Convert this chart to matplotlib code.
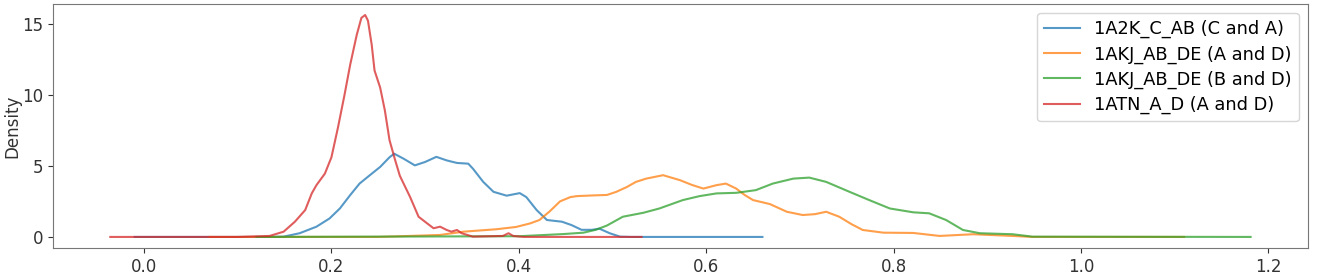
import matplotlib
matplotlib.use("Agg")
import matplotlib.pyplot as plt

# ---------------------------------
# Density curves
# ---------------------------------
labels = ["1A2K_C_AB (C and A)", "1AKJ_AB_DE (A and D)",
          "1AKJ_AB_DE (B and D)", "1ATN_A_D (A and D)"]

blue_x = [-0.01, 0.13, 0.149, 0.166, 0.184, 0.198, 0.209, 0.220, 0.230, 0.241,
          0.252, 0.262, 0.267, 0.277, 0.289, 0.300, 0.312, 0.323, 0.334, 0.346,
          0.351, 0.362, 0.373, 0.387, 0.401, 0.408, 0.419, 0.430, 0.446, 0.456,
          0.467, 0.478, 0.486, 0.497, 0.508, 0.52, 0.660]
blue_y = [0, 0, 0.02, 0.26, 0.72, 1.3, 2.0, 2.94, 3.75, 4.34,
          4.92, 5.6, 5.85, 5.5, 5.03, 5.27, 5.63, 5.38, 5.2, 5.15,
          4.8, 3.87, 3.17, 2.9, 3.08, 2.8, 1.89, 1.19, 1.07, 0.84,
          0.5, 0.5, 0.58, 0.26, 0.02, 0, 0]

orange_x = [0.07, 0.25, 0.316, 0.341, 0.376, 0.397, 0.412, 0.422, 0.433, 0.444,
            0.455, 0.462, 0.48, 0.494, 0.504, 0.515, 0.525, 0.536, 0.554, 0.572,
            0.585, 0.597, 0.611, 0.621, 0.632, 0.641, 0.650, 0.668, 0.686, 0.703,
            0.716, 0.728, 0.742, 0.755, 0.767, 0.789, 0.821, 0.849, 0.885, 0.927,
            0.948, 1.11]
orange_y = [0, 0, 0.14, 0.37, 0.54, 0.7, 0.95, 1.19, 1.8, 2.5,
            2.8, 2.87, 2.92, 2.95, 3.17, 3.5, 3.87, 4.1, 4.34, 3.99,
            3.65, 3.4, 3.64, 3.75, 3.4, 2.95, 2.59, 2.31, 1.77, 1.54,
            1.6, 1.77, 1.42, 0.9, 0.49, 0.3, 0.28, 0.07, 0.19, 0.07,
            0, 0]

green_x = [0.12, 0.40, 0.447, 0.469, 0.482, 0.494, 0.511, 0.533, 0.550, 0.575,
           0.593, 0.611, 0.632, 0.653, 0.671, 0.693, 0.710, 0.728, 0.753, 0.774,
           0.796, 0.821, 0.838, 0.856, 0.874, 0.892, 0.927, 0.948, 1.181]
green_y = [0, 0.05, 0.2, 0.3, 0.5, 0.8, 1.42, 1.7, 2.0, 2.59,
           2.87, 3.06, 3.1, 3.29, 3.75, 4.1, 4.17, 3.87, 3.17, 2.59,
           2.0, 1.73, 1.66, 1.19, 0.49, 0.26, 0.19, 0.02, 0]

red_x = [-0.036, 0.10, 0.134, 0.149, 0.161, 0.172, 0.179, 0.184, 0.193, 0.200,
         0.207, 0.214, 0.220, 0.227, 0.232, 0.236, 0.239, 0.243, 0.246, 0.252,
         0.257, 0.262, 0.268, 0.273, 0.284, 0.293, 0.302, 0.309, 0.316, 0.323,
         0.328, 0.334, 0.339, 0.351, 0.383, 0.389, 0.394, 0.405, 0.531]
red_y = [0, 0, 0.07, 0.37, 1.07, 1.89, 3.06, 3.64, 4.45, 5.6,
         7.7, 10.0, 12.1, 14.2, 15.4, 15.6, 15.2, 13.5, 11.7, 10.5,
         8.9, 6.8, 5.4, 4.3, 2.8, 1.42, 0.96, 0.61, 0.72, 0.49,
         0.37, 0.49, 0.26, 0.02, 0.07, 0.26, 0.07, 0, 0]

series = [(blue_x, blue_y), (orange_x, orange_y), (green_x, green_y), (red_x, red_y)]
colors = ["tab:blue", "tab:orange", "tab:green", "tab:red"]

# ---------------------------------
# Plot
# ---------------------------------
plt.rcParams["font.size"] = 12
fig = plt.figure(figsize=(13.29, 2.79), dpi=100)
ax = fig.add_axes([0.040, 0.111, 0.944, 0.875])

for (xs, ys), c, lab in zip(series, colors, labels):
    ax.plot(xs, ys, color=c, lw=1.5, alpha=0.75, label=lab)

ax.set_xlim(-0.097, 1.242)
ax.set_ylim(-0.78, 16.38)
ax.set_xticks([0.0, 0.2, 0.4, 0.6, 0.8, 1.0, 1.2])
ax.set_yticks([0, 5, 10, 15])
ax.set_ylabel("Density", color="#333333", labelpad=1)
ax.tick_params(colors="#333333", labelcolor="#333333")
for s in ax.spines.values():
    s.set_color("#777777")
ax.legend(loc="upper right", fontsize=12.8, labelspacing=0.4)

fig.savefig("out.png")
